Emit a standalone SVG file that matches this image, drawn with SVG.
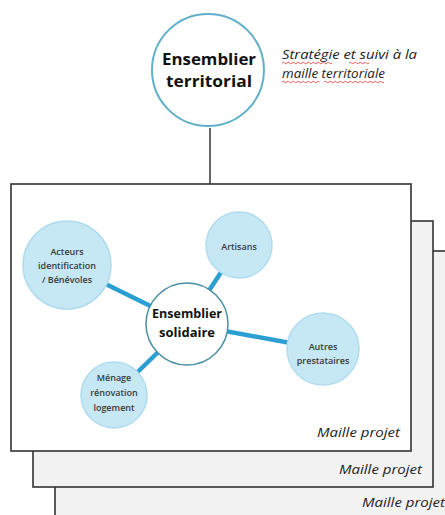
<svg xmlns="http://www.w3.org/2000/svg" width="445" height="515" viewBox="0 0 445 515">
<style>
.frame{stroke:#333;stroke-width:1.6}
.lbl{font-family:"Open Sans","Liberation Sans",sans-serif;font-style:italic;font-size:13px;fill:#222;text-anchor:end}
.sat{fill:#c6e7f4;stroke:#b0dcef;stroke-width:1.5}
.sattxt{font-family:"Open Sans","Liberation Sans",sans-serif;font-size:9px;font-weight:600;fill:#3a3a3a;text-anchor:middle}
.hub{font-family:"Open Sans","Liberation Sans",sans-serif;font-weight:bold;fill:#111;text-anchor:middle}
.wavy{fill:none;stroke:#d33;stroke-width:0.8}
.link{stroke:#2b9fd2;stroke-width:4.5}
</style>
<rect width="445" height="515" fill="#fff"/>
<g id="frame3"><rect class="frame" x="55" y="251" width="400" height="280" fill="#f2f2f2"/><text class="lbl" x="445" y="507" textLength="83" lengthAdjust="spacingAndGlyphs">Maille projet</text></g>
<g id="frame2"><rect class="frame" x="33" y="221" width="400" height="266" fill="#f2f2f2"/><text class="lbl" x="422" y="474" textLength="83" lengthAdjust="spacingAndGlyphs">Maille projet</text></g>
<g id="frame1"><rect class="frame" x="11" y="184" width="400" height="267" fill="#fff"/><text class="lbl" x="400" y="437" textLength="83" lengthAdjust="spacingAndGlyphs">Maille projet</text></g>
<g id="connectors">
<line x1="210" y1="128" x2="210" y2="184" stroke="#333" stroke-width="1.5"/>
<line class="link" x1="67" y1="265" x2="187" y2="324"/>
<line class="link" x1="239" y1="245" x2="187" y2="324"/>
<line class="link" x1="323" y1="349" x2="187" y2="324"/>
<line class="link" x1="114" y1="395" x2="187" y2="324"/>
</g>
<g id="territorial">
<circle cx="208" cy="70" r="56" fill="#fff" stroke="#5fb0c8" stroke-width="2"/>
<text class="hub" font-size="16" x="209" y="65" textLength="94" lengthAdjust="spacingAndGlyphs">Ensemblier</text>
<text class="hub" font-size="16" x="209" y="87" textLength="86" lengthAdjust="spacingAndGlyphs">territorial</text>
</g>
<g id="note" font-family="'Open Sans','Liberation Sans',sans-serif" font-style="italic" font-size="13" fill="#222">
<text x="282" y="59" textLength="135" lengthAdjust="spacingAndGlyphs">Stratégie et suivi à la</text>
<text x="282" y="78" textLength="103" lengthAdjust="spacingAndGlyphs">maille territoriale</text>
<path class="wavy" d="M282 63 q1.25 -1.5 2.5 0 t2.5 0 t2.5 0 t2.5 0 t2.5 0 t2.5 0 t2.5 0 t2.5 0 t2.5 0 t2.5 0 t2.5 0 t2.5 0 t2.5 0 t2.5 0 t2.5 0 t2.5 0 t2.5 0 t2.5 0 t2.5 0 t2.5 0"/>
<path class="wavy" d="M349 63 q1.25 -1.5 2.5 0 t2.5 0 t2.5 0 t2.5 0 t2.5 0 t2.5 0 t2.5 0 t2.5 0"/>
<path class="wavy" d="M282 82 q1.25 -1.5 2.5 0 t2.5 0 t2.5 0 t2.5 0 t2.5 0 t2.5 0 t2.5 0 t2.5 0 t2.5 0 t2.5 0 t2.5 0 t2.5 0 t2.5 0 t2.5 0 t2.5 0"/>
<path class="wavy" d="M324 82 q1.25 -1.5 2.5 0 t2.5 0 t2.5 0 t2.5 0 t2.5 0 t2.5 0 t2.5 0 t2.5 0 t2.5 0 t2.5 0 t2.5 0 t2.5 0 t2.5 0 t2.5 0 t2.5 0 t2.5 0 t2.5 0 t2.5 0 t2.5 0 t2.5 0 t2.5 0 t2.5 0 t2.5 0 t2.5 0"/>
</g>
<g id="acteurs"><circle class="sat" cx="67" cy="265" r="44"/><text class="sattxt"><tspan x="67" y="255">Acteurs</tspan><tspan x="67" y="269">identification</tspan><tspan x="67" y="283">/ Bénévoles</tspan></text></g>
<g id="artisans"><circle class="sat" cx="239" cy="245" r="33"/><text class="sattxt" x="239" y="250">Artisans</text></g>
<g id="autres"><circle class="sat" cx="323" cy="349" r="36"/><text class="sattxt"><tspan x="323" y="350">Autres</tspan><tspan x="323" y="364">prestataires</tspan></text></g>
<g id="menage"><circle class="sat" cx="114" cy="395" r="33"/><text class="sattxt"><tspan x="114" y="381">Ménage</tspan><tspan x="114" y="396">rénovation</tspan><tspan x="114" y="411">logement</tspan></text></g>
<g id="solidaire"><circle cx="187" cy="324" r="41" fill="#fff" stroke="#4a8ea3" stroke-width="1.5"/><text class="hub" font-size="13"><tspan x="187" y="318" textLength="70" lengthAdjust="spacingAndGlyphs">Ensemblier</tspan><tspan x="187" y="337" textLength="56" lengthAdjust="spacingAndGlyphs">solidaire</tspan></text></g>
</svg>
